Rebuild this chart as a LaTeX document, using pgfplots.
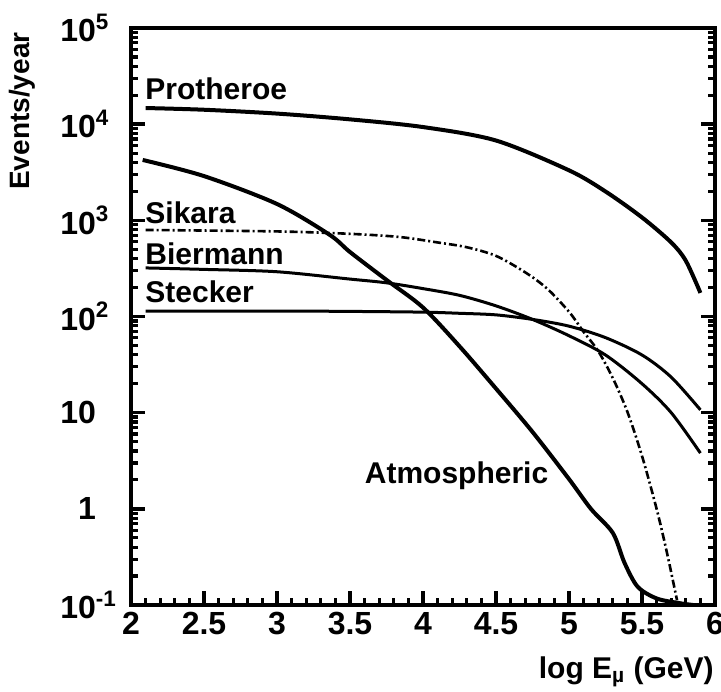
\documentclass[border=0pt]{standalone}
\usepackage{fontspec}
\setmainfont{Liberation Sans}
\usepackage{pgfplots}
\pgfplotsset{compat=1.18}
\begin{document}
\begin{tikzpicture}
\begin{axis}[
  scale only axis,
  width=292pt, height=288.5pt,
  xmin=2, xmax=6, ymin=0.1, ymax=1e5,
  ymode=log,
  axis line style={line width=1.6pt},
  tick align=inside,
  xtick pos=left, ytick pos=both,
  major tick length=7pt, minor tick length=3.5pt,
  major tick style={line width=1.8pt, black},
  minor tick style={line width=1.6pt, black},
  xtick={2,2.5,3,3.5,4,4.5,5,5.5,6},
  xticklabels={2,2.5,3,3.5,4,4.5,5,5.5,6},
  minor x tick num=4,
  ytick={0.1,1,10,100,1000,10000,100000},
  yticklabels={10\rlap{\textsuperscript{-1}},1,10,10\rlap{\textsuperscript{2}},10\rlap{\textsuperscript{3}},10\rlap{\textsuperscript{4}},10\rlap{\textsuperscript{5}}},
  ticklabel style={font=\fontsize{16}{18}\selectfont\bfseries},
  yticklabel style={anchor=east, xshift=-14pt},
  xlabel={log E\textsubscript{\textmu} (GeV)},
  ylabel={Events/year},
  xlabel style={font=\fontsize{15}{17}\selectfont\bfseries, at={(axis description cs:0.848,-0.116)}, anchor=center},
  ylabel style={font=\fontsize{14}{16}\selectfont\bfseries, at={(axis description cs:-0.187,0.856)}, anchor=center, rotate=0},
  clip=false,
]
% Protheroe
\addplot[black, line width=2pt, smooth] coordinates {
(2.1,14720) (2.5,14125) (3.0,12882) (3.5,11220) (4.0,9333) (4.5,6761) (5.0,3311) (5.25,1995) (5.5,1072) (5.7,589) (5.8,380) (5.9,176)};
% Atmospheric
\addplot[black, line width=2pt, smooth] coordinates {
(2.08,4246) (2.5,2884) (3.0,1479) (3.36,708) (3.5,468) (3.75,240) (4.0,124) (4.25,49) (4.5,17.8) (4.75,6.31) (5.0,2.04) (5.15,1.0) (5.3,0.562) (5.38,0.275) (5.47,0.155) (5.6,0.117) (5.75,0.105) (5.85,0.1)};
% Sikara
\addplot[black, line width=1.3pt, smooth, dash pattern=on 4pt off 1.5pt on 1pt off 1.5pt] coordinates {
(2.1,794) (3.0,767) (3.5,724) (3.84,671) (4.1,589) (4.3,525) (4.5,427) (4.7,288) (4.85,195) (5.0,112) (5.1,69.2) (5.2,43.7) (5.3,22.9) (5.4,10.2) (5.5,3.55) (5.6,1.0) (5.67,0.355) (5.74,0.112)};
% Biermann
\addplot[black, line width=1.5pt, smooth] coordinates {
(2.1,320) (2.5,309) (3.0,292) (3.5,245) (3.75,224) (4.0,195) (4.25,166) (4.5,129) (4.75,93.3) (5.0,63.1) (5.25,39.8) (5.5,20.0) (5.7,10.0) (5.9,3.80)};
% Stecker
\addplot[black, line width=1.5pt, smooth] coordinates {
(2.1,114) (3.0,114) (3.5,113) (4.0,111) (4.25,108) (4.5,104) (4.75,93.3) (5.0,79.4) (5.25,60.3) (5.5,39.8) (5.7,23.4) (5.9,10.7)};
\node[anchor=west, inner sep=0pt, font=\fontsize{15}{17}\selectfont\bfseries] at (axis cs:2.096,23200) {Protheroe};
\node[anchor=west, inner sep=0pt, font=\fontsize{15}{17}\selectfont\bfseries] at (axis cs:2.096,1194) {Sikara};
\node[anchor=west, inner sep=0pt, font=\fontsize{15}{17}\selectfont\bfseries] at (axis cs:2.096,447) {Biermann};
\node[anchor=west, inner sep=0pt, font=\fontsize{15}{17}\selectfont\bfseries] at (axis cs:2.096,180) {Stecker};
\node[anchor=center, inner sep=0pt, font=\fontsize{15}{17}\selectfont\bfseries] at (axis cs:4.23,2.2) {Atmospheric};
\end{axis}
\pgfresetboundingbox
\path (current axis.south west) ++(-65.5pt,-43pt) coordinate (bl);
\path (current axis.north east) ++(3pt,14pt) coordinate (tr);
\path[use as bounding box] (bl) rectangle (tr);
\end{tikzpicture}
\end{document}
